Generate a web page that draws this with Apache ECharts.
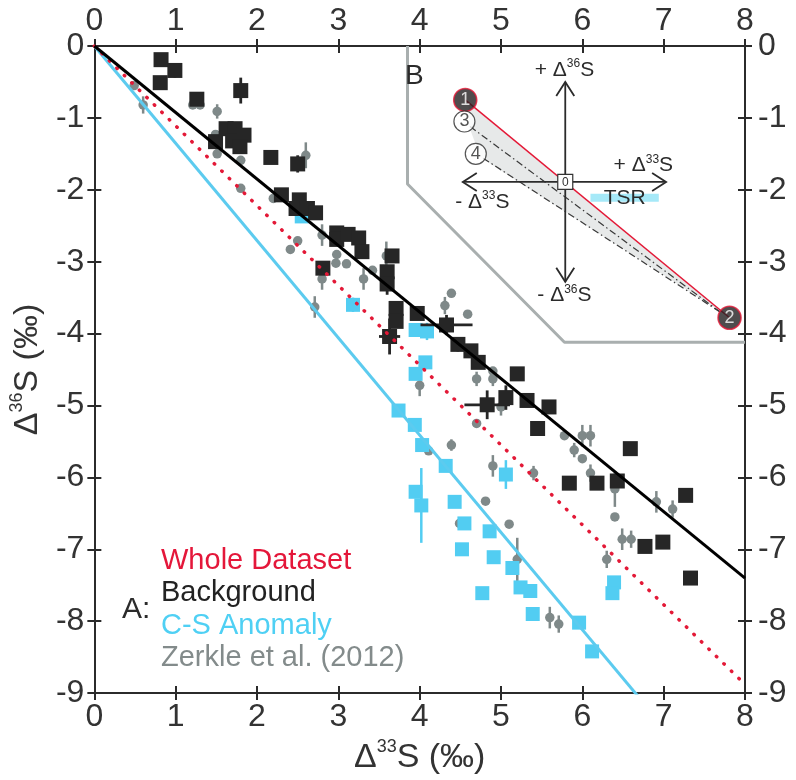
<!DOCTYPE html>
<html><head><meta charset="utf-8">
<script src="https://cdn.jsdelivr.net/npm/echarts@6/dist/echarts.min.js"></script>
<style>html,body{margin:0;padding:0;background:#fff}#c{width:796px;height:780px}</style>
</head><body><div id="c"></div>
<script>
// ---------- DATA ----------
const xRange = [0, 8];
const yRange = [-9, 0];
// [Δ33S, Δ36S, xErr, yErr]
const backgroundPts = [
 [0.82,-0.19,0,0],[0.99,-0.34,0,0.10],[0.81,-0.51,0,0],[1.26,-0.74,0,0],[1.80,-0.62,0,0.18],
 [1.49,-1.33,0,0],[1.62,-1.15,0,0],[1.73,-1.15,0,0],[1.70,-1.32,0,0],[1.84,-1.24,0,0],[1.79,-1.40,0,0],
 [2.17,-1.55,0,0],[2.50,-1.64,0,0.12],[2.30,-2.07,0,0],[2.52,-2.14,0,0],[2.48,-2.26,0,0],[2.62,-2.26,0,0],
 [2.72,-2.32,0,0],[2.98,-2.60,0,0],[2.98,-2.69,0,0],[3.12,-2.62,0,0],[3.25,-2.67,0,0],[3.29,-2.86,0,0],
 [3.66,-2.92,0,0],[3.60,-3.14,0,0],[3.60,-3.31,0,0.15],[2.81,-3.09,0,0.08],[3.97,-3.72,0,0],[3.71,-3.65,0,0],
 [3.71,-3.83,0,0],[3.63,-4.04,0.13,0.25],[4.33,-3.88,0.32,0.14],[4.47,-4.15,0,0.10],[4.63,-4.24,0,0],
 [4.72,-4.40,0,0],[5.20,-4.56,0,0],[4.83,-4.99,0.28,0.20],[5.06,-4.89,0,0.17],[5.32,-4.93,0,0],
 [5.59,-5.02,0,0],[5.45,-5.32,0,0],[5.84,-6.08,0,0],[6.18,-6.08,0,0],[6.43,-6.05,0,0],[6.59,-5.60,0,0],
 [7.27,-6.25,0,0.08],[6.77,-6.96,0,0],[6.99,-6.90,0,0],[7.33,-7.40,0,0]
];
const csAnomalyPts = [
 [2.55,-2.37,0,0],[3.18,-3.60,0,0.10],[3.95,-3.95,0,0],[4.09,-3.97,0,0.12],[4.07,-4.40,0,0],[3.95,-4.56,0,0],
 [3.74,-5.07,0,0],[3.94,-5.27,0,0],[4.03,-5.55,0,0],[4.32,-5.84,0,0],[3.95,-6.20,0,0],[4.02,-6.39,0,0.52],
 [4.43,-6.34,0,0],[4.55,-6.64,0,0],[4.52,-7.00,0,0],[4.86,-6.75,0,0],[4.91,-7.11,0,0],[4.77,-7.61,0,0],
 [5.14,-7.26,0,0],[5.24,-7.53,0,0],[5.36,-7.58,0,0],[5.39,-7.90,0,0],[5.06,-5.96,0,0.20],[5.96,-8.02,0,0],
 [6.12,-8.42,0,0],[6.39,-7.46,0,0],[6.37,-7.61,0,0]
];
const zerklePts = [
 [0.49,-0.55,0,0],[0.60,-0.82,0,0.12],[1.21,-0.82,0,0],[1.30,-0.82,0,0],[1.51,-0.91,0,0.10],[1.49,-1.23,0,0],
 [1.51,-1.50,0,0],[1.80,-1.59,0,0],[1.80,-1.98,0,0],[2.20,-2.12,0,0],[2.60,-1.52,0,0.18],[2.80,-2.63,0,0.15],
 [2.50,-2.71,0,0],[2.41,-2.83,0,0],[2.98,-2.90,0,0],[2.97,-3.02,0,0],[3.10,-3.03,0,0],[2.80,-3.24,0,0.15],
 [3.31,-3.24,0,0.15],[3.42,-3.12,0,0],[3.59,-2.92,0,0.20],[2.71,-3.63,0,0.15],[4.31,-3.61,0,0.12],[4.39,-3.44,0,0],
 [4.59,-3.73,0,0],[4.00,-4.72,0,0.15],[4.70,-4.63,0,0.10],[4.90,-4.63,0,0.10],[4.90,-4.52,0,0],[5.00,-5.02,0,0.12],
 [4.70,-5.25,0,0],[4.39,-5.55,0,0.08],[4.11,-5.63,0,0],[4.90,-5.84,0,0.15],[5.40,-5.94,0,0.10],[5.78,-5.42,0,0],
 [6.00,-5.42,0,0.15],[6.10,-5.42,0,0.15],[5.90,-5.62,0,0.10],[6.00,-5.74,0,0],[6.10,-5.94,0,0.12],
 [6.40,-6.16,0,0.25],[6.40,-6.55,0,0],[6.91,-6.34,0,0.15],[7.11,-6.44,0,0.12],[6.49,-6.86,0,0.15],
 [6.60,-6.86,0,0.12],[6.30,-7.14,0,0.12],[5.60,-7.95,0,0.15],[5.71,-8.04,0,0.12],[4.81,-6.33,0,0],
 [5.10,-6.65,0,0],[5.20,-7.14,0,0.30],[4.49,-6.64,0,0]
];
// regression slopes (Δ36S/Δ33S), lines through origin
const slopeBackground = -0.925;
const slopeWhole = -1.11;
const slopeCS = -1.353;

// ---------- INSET B (schematic, in axis units) ----------
const insetBorder = [[3.85,0],[3.85,-1.92],[5.78,-4.12],[8,-4.12]];
const insetShade = [[4.60,-0.80],[4.60,-1.10],[4.75,-1.55],[7.78,-3.75]];
const insetRedLine = [[4.56,-0.75],[7.81,-3.78]];
const insetDashLines = [[[4.62,-1.12],[7.72,-3.72]],[[4.78,-1.56],[7.72,-3.72]]];
const insetArrows = [[5.79,-0.50,5.79,-3.28],[4.53,-1.89,7.03,-1.89]];
const insetOrigin = [5.79,-1.89];
const insetTSR = [[6.10,-2.11],[6.94,-2.11]];
const insetCircles = [
 {p:[4.56,-0.75], t:'1', dark:true},
 {p:[7.81,-3.78], t:'2', dark:true},
 {p:[4.55,-1.05], t:'3', dark:false},
 {p:[4.69,-1.50], t:'4', dark:false}
];
const insetTexts = [
 [5.78,-0.33,'+ {a|Δ}{s|36}{a|S}'],
 [5.78,-3.47,'- {a|Δ}{s|36}{a|S}'],
 [6.75,-1.66,'+ {a|Δ}{s|33}{a|S}'],
 [4.77,-2.17,'- {a|Δ}{s|33}{a|S}'],
 [6.52,-2.12,'TSR']
];

// ---------- LEGEND TEXT ----------
const legendItems = [
 ['Whole Dataset', '#e4173a'],
 ['Background', '#222222'],
 ['C-S Anomaly', '#4fd0f4'],
 ['Zerkle et al. (2012)', '#838b8b']
];

const FONT = '"Liberation Sans", Arial, sans-serif';
const AX = '#2b2b2b';

const chart = echarts.init(document.getElementById('c'), null, {renderer:'canvas'});

function mkX(pos, inside, labels, extra) {
  return Object.assign({
    type:'value', position:pos, min:xRange[0], max:xRange[1], interval:1,
    axisLine:{show:true, onZero:false, lineStyle:{color:AX, width:2}},
    axisTick:{show:true, inside:inside, length:7, lineStyle:{color:AX, width:2}},
    axisLabel:{show:labels, fontSize:32, color:'#333', fontFamily:FONT, margin: pos==='top'?9:8},
    splitLine:{show:false}
  }, extra||{});
}
function mkY(pos, inside, labels, extra) {
  return Object.assign({
    type:'value', position:pos, min:yRange[0], max:yRange[1], interval:1,
    axisLine:{show:true, onZero:false, lineStyle:{color:AX, width:2}},
    axisTick:{show:true, inside:inside, length:7, lineStyle:{color:AX, width:2}},
    axisLabel:{show:labels, fontSize:32, color:'#333', fontFamily:FONT, margin: pos==='right'?13:10},
    splitLine:{show:false}
  }, extra||{});
}

const nameRich = {
  d:{fontSize:34, fontFamily:FONT, color:'#333', lineHeight:40},
  s:{fontSize:18, fontFamily:FONT, color:'#333', verticalAlign:'top', lineHeight:22}
};

function errSeries(pts, color, width, z) {
  const d = pts.filter(p => p[2] || p[3]);
  return {
    type:'custom', z:z, silent:true, data:d, encode:{x:0, y:1},
    renderItem:(params, api) => {
      const x = api.value(0), y = api.value(1), ex = api.value(2), ey = api.value(3);
      const ch = [];
      if (ey) { const a = api.coord([x, y+ey]), b = api.coord([x, y-ey]);
        ch.push({type:'line', shape:{x1:a[0],y1:a[1],x2:b[0],y2:b[1]}, style:{stroke:color, lineWidth:width}}); }
      if (ex) { const a = api.coord([x-ex, y]), b = api.coord([x+ex, y]);
        ch.push({type:'line', shape:{x1:a[0],y1:a[1],x2:b[0],y2:b[1]}, style:{stroke:color, lineWidth:width}}); }
      return {type:'group', children:ch};
    }
  };
}

function regLine(slope, color, style, z) {
  return {type:'line', z:z, silent:true, showSymbol:false, clip:true,
    data:[[xRange[0], xRange[0]*slope],[xRange[1], xRange[1]*slope]],
    lineStyle:Object.assign({color:color}, style)};
}

const series = [
  {type:'line', z:1, silent:true, showSymbol:false, data:insetBorder, lineStyle:{color:'#a9afaf', width:3}},
  {type:'custom', z:1, silent:true, data:[0], renderItem:(params, api) => ({
     type:'polygon', shape:{points: insetShade.map(p => api.coord(p))}, style:{fill:'#e7e9e9'}})},
  errSeries(zerklePts, '#7f8989', 2.5, 2),
  {type:'scatter', z:3, silent:true, symbol:'circle', symbolSize:9.5, data:zerklePts.map(p=>[p[0],p[1]]),
   itemStyle:{color:'#7f8989', opacity:1}},
  errSeries(csAnomalyPts, '#52cdf2', 2.5, 4),
  {type:'scatter', z:5, silent:true, symbol:'rect', symbolSize:14, data:csAnomalyPts.map(p=>[p[0],p[1]]),
   itemStyle:{color:'#52cdf2', opacity:1}},
  errSeries(backgroundPts, '#262626', 2.8, 6),
  {type:'scatter', z:7, silent:true, symbol:'rect', symbolSize:15, data:backgroundPts.map(p=>[p[0],p[1]]),
   itemStyle:{color:'#262626', opacity:1}},
  regLine(slopeCS, '#5ccbef', {width:3}, 8),
  regLine(slopeWhole, '#e31937', {width:3.5, type:[0.5,10], cap:'round'}, 8),
  regLine(slopeBackground, '#000000', {width:3}, 8),
  {type:'line', z:9, silent:true, showSymbol:false, data:insetTSR, lineStyle:{color:'#a6e9f8', width:8}},
  {type:'line', z:10, silent:true, showSymbol:false, data:insetDashLines[0], lineStyle:{color:'#3a3a3a', width:1.2, type:[7,3,1.5,3]}},
  {type:'line', z:10, silent:true, showSymbol:false, data:insetDashLines[1], lineStyle:{color:'#3a3a3a', width:1.2, type:[7,3,1.5,3]}},
  {type:'line', z:10, silent:true, showSymbol:false, data:insetRedLine, lineStyle:{color:'#e31937', width:1.5}},
  {type:'custom', z:11, silent:true, data:insetArrows, encode:{x:[0,2], y:[1,3]}, renderItem:(params, api) => {
     const a = api.coord([api.value(0), api.value(1)]), b = api.coord([api.value(2), api.value(3)]);
     const dx=b[0]-a[0], dy=b[1]-a[1], len=Math.hypot(dx,dy), ux=dx/len, uy=dy/len, nx=-uy, ny=ux;
     const L=14, W=9;
     const head = (p, sx, sy) => ({type:'polyline', shape:{points:[[p[0]+sx*L+nx*W, p[1]+sy*L+ny*W],[p[0],p[1]],[p[0]+sx*L-nx*W, p[1]+sy*L-ny*W]]},
        style:{stroke:'#2b2b2b', lineWidth:1.8, fill:'none'}});
     return {type:'group', children:[
       {type:'line', shape:{x1:a[0],y1:a[1],x2:b[0],y2:b[1]}, style:{stroke:'#2b2b2b', lineWidth:1.8}},
       head(a, ux, uy), head(b, -ux, -uy)]};
  }},
  {type:'custom', z:12, silent:true, data:[insetOrigin], encode:{x:0,y:1}, renderItem:(params, api) => {
     const c = api.coord([api.value(0), api.value(1)]);
     return {type:'group', children:[
       {type:'rect', shape:{x:c[0]-7.5, y:c[1]-7.5, width:15, height:15}, style:{fill:'#fff', stroke:'#333', lineWidth:1.2}},
       {type:'text', x:c[0], y:c[1]+0.5, style:{text:'0', fill:'#333', font:'12px '+FONT, align:'center', verticalAlign:'middle'}}
     ]};
  }},
  {type:'scatter', z:13, silent:true, symbol:'circle',
   data: insetCircles.map(c => ({value:c.p, name:c.t, symbolSize: c.dark?23:21,
      itemStyle:{color: c.dark?'#231f20':'#ffffff', borderColor: c.dark?'#e31937':'#2b2b2b', borderWidth: c.dark?1.6:1.2},
      label:{show:true, position:'inside', formatter:c.t, color: c.dark?'#fff':'#2b2b2b', fontSize:18, fontFamily:FONT}}))},
  {type:'custom', z:14, silent:true, data:insetTexts.map(t=>[t[0],t[1]]), encode:{x:0,y:1}, renderItem:(params, api) => {
     const c = api.coord([api.value(0), api.value(1)]);
     return {type:'text', x:c[0], y:c[1], style:{text:insetTexts[params.dataIndex][2], fill:'#2b2b2b', font:'21px '+FONT,
        align:'center', verticalAlign:'middle',
        rich:{a:{fontSize:21, fontFamily:FONT, fill:'#2b2b2b', lineHeight:24}, s:{fontSize:12, fontFamily:FONT, fill:'#2b2b2b', verticalAlign:'top', lineHeight:14}}}};
  }}
];

const graphic = [
  {type:'text', x:122, y:610, z:20, style:{text:'A:', fill:'#2b2b2b', font:'30px '+FONT, verticalAlign:'middle'}},
  {type:'text', x:405, y:76, z:20, style:{text:'B', fill:'#2b2b2b', font:'28px '+FONT, verticalAlign:'middle'}}
];
legendItems.forEach((it, i) => {
  graphic.push({type:'text', x:161, y:561 + i*32.3, z:20, style:{text:it[0], fill:it[1], font:'29px '+FONT, verticalAlign:'middle'}});
});

chart.setOption({
  animation:false,
  backgroundColor:'#ffffff',
  grid:{left:83, right:51, top:46, bottom:77, containLabel:false},
  xAxis:[
    mkX('bottom', false, true, {name:'{d|Δ}{s|33}{d|S (‰)}', nameLocation:'middle', nameGap:34,
        nameTextStyle:{rich:nameRich}}),
    mkX('top', false, true),
    mkX('bottom', true, false),
    mkX('top', true, false)
  ],
  yAxis:[
    mkY('left', false, true, {name:'{d|Δ}{s|36}{d|S (‰)}', nameLocation:'middle', nameGap:44, nameRotate:90,
        nameTextStyle:{rich:nameRich}}),
    mkY('right', false, true),
    mkY('left', true, false),
    mkY('right', true, false)
  ],
  series: series,
  graphic: graphic
});
</script></body></html>
